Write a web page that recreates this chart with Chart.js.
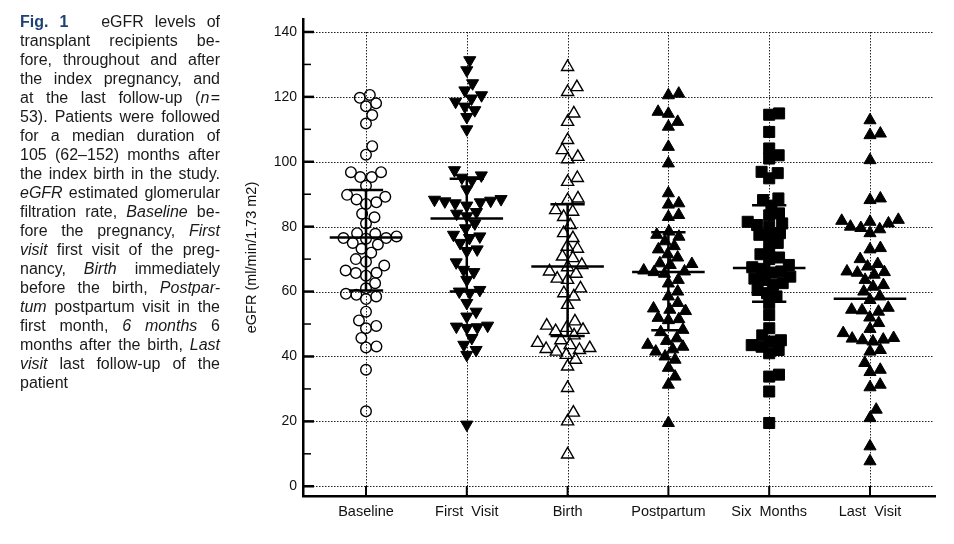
<!DOCTYPE html>
<html>
<head>
<meta charset="utf-8">
<script src="https://cdn.jsdelivr.net/npm/chart.js@4.4.1/dist/chart.umd.min.js"></script>
<style>
  html, body { margin: 0; padding: 0; background: #fff; }
  body { width: 954px; height: 544px; position: relative; overflow: hidden; }
  #chartBox { position: absolute; left: 0; top: 0; width: 954px; height: 544px; }
  #caption {
    position: absolute; left: 20px; top: 12px; width: 200px;
    font-family: "Liberation Sans", Arial, sans-serif; font-size: 16px; line-height: 19px; color: #1a1a1a;
  }
  #caption div { text-align: justify; text-align-last: justify; white-space: nowrap; }
  #caption div.last { text-align-last: left; }
  #caption b { color: #1d4275; }
</style>
</head>
<body>
<div id="chartBox"><canvas id="egfrChart" width="954" height="544"></canvas></div>
<div id="caption">
  <div><b>Fig. 1</b>&nbsp;&nbsp; eGFR levels of</div>
  <div>transplant recipients be-</div>
  <div>fore, throughout and after</div>
  <div>the index pregnancy, and</div>
  <div>at the last follow-up (<i>n</i>&#8202;=</div>
  <div>53). Patients were followed</div>
  <div>for a median duration of</div>
  <div>105 (62–152) months after</div>
  <div>the index birth in the study.</div>
  <div><i>eGFR</i> estimated glomerular</div>
  <div>filtration rate, <i>Baseline</i> be-</div>
  <div>fore the pregnancy, <i>First</i></div>
  <div><i>visit</i> first visit of the preg-</div>
  <div>nancy, <i>Birth</i> immediately</div>
  <div>before the birth, <i>Postpar-</i></div>
  <div><i>tum</i> postpartum visit in the</div>
  <div>first month, <i>6 months</i> 6</div>
  <div>months after the birth, <i>Last</i></div>
  <div><i>visit</i> last follow-up of the</div>
  <div class="last">patient</div>
</div>
<script>
// categories and tick labels
const categories = ["Baseline", "First  Visit", "Birth", "Postpartum", "Six  Months", "Last  Visit"];
const yTicks = [0, 20, 40, 60, 80, 100, 120, 140];

// eGFR values (ml/min/1.73 m2), 53 per time point
const baseline = [120.6, 119.7, 118.0, 117.1, 114.4, 111.8, 104.8, 102.2, 96.8, 96.8, 95.3, 95.3, 92.6, 89.8, 89.2,
  88.4, 87.5, 87.0, 84.0, 82.9, 81.0, 78.0, 77.8, 77.0, 76.5, 76.5, 76.3, 75.0, 74.5, 73.2, 72.0, 70.0, 69.2, 68.0,
  66.5, 65.8, 65.7, 64.9, 62.6, 61.0, 59.3, 59.0, 58.5, 57.7, 53.8, 51.1, 49.4, 48.7, 45.7, 43.1, 42.8, 35.9, 23.1];
const firstVisit = [131.3, 128.2, 124.2, 122.0, 120.5, 119.5, 118.5, 117.0, 115.9, 113.8, 110.0, 97.4, 95.8, 95.1,
  94.3, 91.5, 88.5, 88.3, 88.0, 87.8, 87.5, 87.2, 86.5, 84.5, 84.0, 83.2, 81.0, 79.5, 77.5, 77.0, 76.5, 75.0, 73.0,
  72.5, 69.0, 66.7, 66.0, 63.6, 60.5, 60.0, 59.6, 56.5, 53.8, 52.3, 49.5, 49.2, 49.0, 48.8, 45.7, 43.6, 42.0, 40.5, 19.0];
const birth = [129.2, 123.0, 121.5, 114.9, 112.3, 106.7, 103.6, 101.5, 100.8, 95.0, 93.8, 88.7, 88.2, 85.1, 84.6,
  83.0, 80.5, 78.0, 76.5, 73.8, 73.2, 70.8, 70.3, 68.2, 67.5, 66.2, 65.5, 64.0, 63.6, 61.0, 59.5, 58.5, 55.9, 50.8,
  49.5, 48.8, 48.2, 47.8, 46.5, 45.0, 44.2, 43.5, 42.6, 42.3, 42.0, 41.5, 40.5, 39.0, 36.9, 30.3, 22.7, 20.0, 9.8];
const postpartum = [121.0, 120.5, 115.4, 114.8, 112.3, 110.8, 104.6, 99.5, 90.3, 87.2, 86.8, 83.6, 83.0, 78.5, 77.5,
  76.9, 75.5, 74.0, 73.0, 71.5, 70.5, 68.7, 68.5, 68.2, 66.5, 66.2, 66.0, 65.5, 63.6, 62.5, 60.0, 58.5, 56.5, 54.8,
  54.4, 54.0, 51.9, 51.5, 51.2, 48.2, 47.5, 45.6, 44.8, 43.6, 43.0, 42.2, 41.5, 40.0, 39.0, 36.5, 33.8, 31.3, 19.5];
const sixMonths = [114.9, 114.5, 109.2, 104.1, 102.0, 101.0, 96.9, 96.5, 94.9, 88.7, 88.2, 86.5, 84.1, 83.5, 81.5,
  81.0, 80.5, 80.0, 78.0, 77.5, 76.9, 75.0, 73.4, 71.5, 70.5, 70.0, 68.2, 67.5, 67.0, 66.2, 65.8, 64.6, 64.0, 63.6,
  62.6, 62.0, 60.5, 59.5, 58.5, 56.4, 52.8, 48.7, 46.5, 45.0, 44.6, 43.5, 43.0, 42.0, 41.0, 34.4, 33.8, 29.2, 19.5];
const lastVisit = [112.8, 108.7, 108.2, 100.5, 88.7, 88.2, 82.1, 81.8, 81.5, 81.0, 80.0, 79.6, 79.2, 78.0, 73.4,
  73.0, 70.0, 68.5, 67.7, 66.2, 66.0, 65.8, 65.2, 63.6, 62.0, 61.5, 60.0, 58.5, 57.4, 55.0, 54.4, 54.2, 53.8, 52.0,
  50.3, 48.5, 47.2, 45.7, 45.5, 45.2, 45.0, 44.6, 42.0, 41.5, 38.0, 35.9, 35.2, 31.3, 30.5, 23.6, 21.0, 12.3, 7.7];

// summary lines drawn on each column (median, interquartile range)
const medians = [76.7, 82.5, 67.7, 66.0, 67.3, 57.8];
const upperQ = [91.3, 94.8, 86.9, 78.3, 86.6, null];
const lowerQ = [60.3, 60.0, 46.3, 48.1, 56.9, null];

const series = [baseline, firstVisit, birth, postpartum, sixMonths, lastVisit];
const markers = [
  { style: "circle", radius: 5.3, fill: "rgba(0,0,0,0)", rot: 0, gap: 10.5 },
  { style: "triangle", radius: 7, fill: "#000", rot: 180, gap: 10.5 },
  { style: "triangle", radius: 7, fill: "rgba(0,0,0,0)", rot: 0, gap: 10.5 },
  { style: "triangle", radius: 7, fill: "#000", rot: 0, gap: 10.5 },
  { style: "rect", radius: 7.8, fill: "#000", rot: 0, gap: 10 },
  { style: "triangle", radius: 7, fill: "#000", rot: 0, gap: 10.5 }
];

const PX_PER_UNIT = 3.25;   // vertical px per eGFR unit
const PX_PER_CAT = 100.8;   // horizontal px between columns

// simple beeswarm: push each point sideways until it clears the ones already placed
function swarm(values, gap) {
  const order = values.map((v, i) => i).sort((a, b) => values[a] - values[b]);
  const placed = [];
  const offs = new Array(values.length).fill(0);
  order.forEach(i => {
    const y = values[i] * PX_PER_UNIT;
    const blocked = [];
    placed.forEach(p => {
      const dy = Math.abs(p.y - y);
      if (dy < gap) {
        const w = Math.sqrt(gap * gap - dy * dy);
        blocked.push([p.x - w, p.x + w]);
      }
    });
    const cands = [0];
    blocked.forEach(b => cands.push(b[0], b[1]));
    cands.sort((a, b) => Math.abs(a) - Math.abs(b) || b - a);
    const x = cands.find(c => blocked.every(b => c <= b[0] + 1e-6 || c >= b[1] - 1e-6));
    placed.push({ x: x, y: y });
    offs[i] = x / PX_PER_CAT;
  });
  return offs;
}

const datasets = [];
series.forEach((vals, ci) => {
  const m = markers[ci];
  const offs = swarm(vals, m.gap);
  datasets.push({
    type: "scatter",
    label: categories[ci],
    data: vals.map((v, k) => ({ x: ci + offs[k], y: v })),
    pointStyle: m.style,
    pointRadius: m.radius,
    pointRotation: m.rot,
    backgroundColor: m.fill,
    borderColor: "#000",
    borderWidth: m.fill === "#000" ? 1 : 1.4,
    order: 2
  });
});

function segment(data, width) {
  return {
    type: "line", data: data, borderColor: "#000", borderWidth: width,
    pointRadius: 0, fill: false, order: 0, borderCapStyle: "butt"
  };
}
medians.forEach((m, ci) => {
  datasets.push(segment([{ x: ci - 0.36, y: m }, { x: ci + 0.36, y: m }], 2.5));
  if (upperQ[ci] != null) {
    datasets.push(segment([{ x: ci - 0.17, y: upperQ[ci] }, { x: ci + 0.17, y: upperQ[ci] }], 2.5));
    datasets.push(segment([{ x: ci - 0.17, y: lowerQ[ci] }, { x: ci + 0.17, y: lowerQ[ci] }], 2.5));
    datasets.push(segment([{ x: ci, y: lowerQ[ci] }, { x: ci, y: upperQ[ci] }], 2.5));
  }
});

// dotted grid + inward ticks, like the original figure
const frame = {
  id: "frame",
  beforeDatasetsDraw(chart) {
    const { ctx, chartArea: a, scales: { x, y } } = chart;
    ctx.save();
    ctx.strokeStyle = "#222";
    ctx.lineWidth = 1;
    ctx.setLineDash([1.5, 1.5]);
    yTicks.forEach(t => {
      const py = Math.round(y.getPixelForValue(t)) + 0.5;
      ctx.beginPath(); ctx.moveTo(a.left + 10, py); ctx.lineTo(a.right - 2, py); ctx.stroke();
    });
    const top = y.getPixelForValue(yTicks[yTicks.length - 1]);
    categories.forEach((c, i) => {
      const px = Math.round(x.getPixelForValue(i)) + 0.5;
      ctx.beginPath(); ctx.moveTo(px, top); ctx.lineTo(px, a.bottom); ctx.stroke();
    });
    ctx.setLineDash([]);
    ctx.strokeStyle = "#000";
    for (let t = 0; t <= 140; t += 10) {
      const py = y.getPixelForValue(t);
      const major = t % 20 === 0;
      ctx.lineWidth = major ? 2.5 : 1.5;
      ctx.beginPath(); ctx.moveTo(a.left, py); ctx.lineTo(a.left + (major ? 11 : 8), py); ctx.stroke();
    }
    ctx.lineWidth = 2;
    categories.forEach((c, i) => {
      const px = x.getPixelForValue(i);
      ctx.beginPath(); ctx.moveTo(px, a.bottom); ctx.lineTo(px, a.bottom - 10); ctx.stroke();
    });
    ctx.restore();
  }
};

new Chart(document.getElementById("egfrChart"), {
  data: { datasets: datasets },
  plugins: [frame],
  options: {
    responsive: false,
    animation: false,
    layout: { padding: { left: 233, top: 19, right: 19, bottom: 0 } },
    plugins: { legend: { display: false }, tooltip: { enabled: false } },
    scales: {
      x: {
        type: "linear", min: -0.625, max: 5.645,
        grid: { display: false, drawTicks: false },
        border: { display: true, color: "#000", width: 2.5 },
        afterBuildTicks: s => { s.ticks = categories.map((c, i) => ({ value: i })); },
        afterFit: s => { s.height = 48; },
        ticks: {
          padding: 7, color: "#111", maxRotation: 0, autoSkip: false,
          font: { family: "'Liberation Sans', Arial, sans-serif", size: 14.5 },
          callback: v => categories[v]
        }
      },
      y: {
        type: "linear", min: -3, max: 144,
        grid: { display: false, drawTicks: false },
        border: { display: true, color: "#000", width: 2.5 },
        afterBuildTicks: s => { s.ticks = yTicks.map(t => ({ value: t })); },
        afterFit: s => { s.width = 70; },
        ticks: {
          padding: 6, color: "#111",
          font: { family: "'Liberation Sans', Arial, sans-serif", size: 14 }
        },
        title: {
          display: true, text: "eGFR (ml/min/1.73 m2)", color: "#111",
          padding: { top: 10 },
          font: { family: "'Liberation Sans', Arial, sans-serif", size: 14.5 }
        }
      }
    }
  }
});
</script>
</body>
</html>
